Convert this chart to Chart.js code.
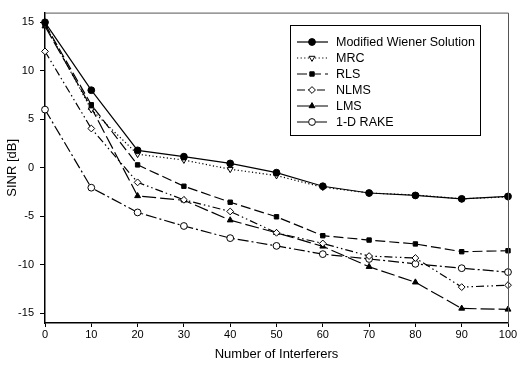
<!DOCTYPE html>
<html>
<head>
<meta charset="utf-8">
<script src="https://cdn.jsdelivr.net/npm/chart.js@4.4.0/dist/chart.umd.min.js"></script>
<style>
html,body{margin:0;padding:0;background:#fff;}
#wrap{width:519px;height:365px;position:relative;}
</style>
</head>
<body>
<div id="wrap"><canvas id="c" width="519" height="365"></canvas></div>
<script>
const interferers = [0, 10, 20, 30, 40, 50, 60, 70, 80, 90, 100];
const wiener  = [15.0, 8.0, 1.8, 1.15, 0.45, -0.5, -1.9, -2.6, -2.85, -3.2, -2.95];
const mrc     = [14.8, 6.0, 1.4, 0.8, -0.15, -0.8, -2.0, -2.6, -2.8, -3.2, -3.0];
const rls     = [14.8, 6.5, 0.3, -1.9, -3.55, -5.05, -7.0, -7.45, -7.85, -8.65, -8.55];
const nlms    = [12.0, 4.05, -1.5, -3.3, -4.5, -6.7, -7.8, -9.1, -9.3, -12.3, -12.1];
const lms     = [14.6, 6.2, -2.9, -3.35, -5.4, -6.7, -8.1, -10.2, -11.8, -14.5, -14.6];
const rake    = [6.0, -2.05, -4.6, -6.0, -7.25, -8.05, -8.9, -9.4, -9.9, -10.35, -10.75];
const seriesNames = ['Modified Wiener Solution', 'MRC', 'RLS', 'NLMS', 'LMS', '1-D RAKE'];
const yTicks = [-15, -10, -5, 0, 5, 10, 15];
const xTicks = [0, 10, 20, 30, 40, 50, 60, 70, 80, 90, 100];

const FONT = '"Liberation Sans", Arial, sans-serif';

function mk(label, data, dash, style, fill, rot) {
  return {
    label: label,
    data: data.map((v, i) => ({x: interferers[i], y: v})),
    borderColor: '#000',
    borderWidth: 1.2,
    borderDash: dash,
    pointStyle: style,
    pointRotation: rot || 0,
    pointRadius: style === 'rect' ? 3.1 : 3.4,
    pointBorderWidth: 1,
    pointBorderColor: '#000',
    pointBackgroundColor: fill ? '#000' : '#fff',
    fill: false,
    tension: 0,
    clip: false
  };
}

const datasets = [
  mk(seriesNames[0], wiener, [], 'circle', true),
  mk(seriesNames[1], mrc, [1.2, 2.4], 'triangle', false, 180),
  mk(seriesNames[2], rls, [10, 4], 'rect', true),
  mk(seriesNames[3], nlms, [8, 3, 1.5, 3, 1.5, 3], 'rectRot', false),
  mk(seriesNames[4], lms, [14, 4], 'triangle', true),
  mk(seriesNames[5], rake, [11, 3, 2, 3], 'circle', false)
];

const framePlugin = {
  id: 'frame',
  afterDatasetsDraw(chart) {
    const {ctx, chartArea: a} = chart;
    ctx.save();
    ctx.strokeStyle = '#555';
    ctx.lineWidth = 1;
    ctx.setLineDash([]);
    ctx.beginPath();
    ctx.moveTo(a.left, a.top + 0.5);
    ctx.lineTo(a.right + 0.5, a.top + 0.5);
    ctx.lineTo(a.right + 0.5, a.bottom);
    ctx.stroke();
    ctx.restore();
  }
};

const legendPlugin = {
  id: 'boxLegend',
  afterDraw(chart) {
    const ctx = chart.ctx;
    const bx = 290, by = 25, bw = 190, bh = 110;
    ctx.save();
    ctx.fillStyle = '#fff';
    ctx.fillRect(bx, by, bw, bh);
    ctx.strokeStyle = '#000';
    ctx.lineWidth = 1;
    ctx.setLineDash([]);
    ctx.strokeRect(bx + 0.5, by + 0.5, bw, bh);
    chart.data.datasets.forEach((ds, i) => {
      const y = 42 + i * 16;
      ctx.save();
      ctx.strokeStyle = '#000';
      ctx.lineWidth = 1.2;
      ctx.setLineDash(ds.borderDash.length ? ds.borderDash : []);
      ctx.beginPath();
      ctx.moveTo(297, y);
      ctx.lineTo(328, y);
      ctx.stroke();
      ctx.setLineDash([]);
      ctx.fillStyle = ds.pointBackgroundColor;
      ctx.strokeStyle = '#000';
      ctx.lineWidth = 1;
      Chart.helpers.drawPoint(ctx, {
        pointStyle: ds.pointStyle,
        rotation: ds.pointRotation,
        radius: ds.pointRadius,
        borderWidth: 1
      }, 312, y);
      ctx.restore();
      ctx.fillStyle = '#000';
      ctx.font = '12.5px ' + FONT;
      ctx.textBaseline = 'middle';
      ctx.textAlign = 'left';
      ctx.fillText(ds.label, 336, y + 0.5);
    });
    ctx.restore();
  }
};

new Chart(document.getElementById('c'), {
  type: 'line',
  data: {datasets: datasets},
  options: {
    responsive: false,
    animation: false,
    devicePixelRatio: 1,
    layout: {padding: {top: 11, right: 11, left: 0, bottom: 0}},
    plugins: {legend: {display: false}, tooltip: {enabled: false}},
    scales: {
      x: {
        type: 'linear',
        min: 0, max: 100,
        afterBuildTicks(s) { s.ticks = xTicks.map(v => ({value: v})); },
        afterFit(s) { s.height = 42; },
        border: {color: '#000', width: 1.5},
        grid: {drawOnChartArea: false, color: '#000', tickLength: 4},
        ticks: {color: '#000', font: {family: FONT, size: 11}, padding: 1, maxRotation: 0},
        title: {display: true, text: 'Number of Interferers', color: '#000',
                font: {family: FONT, size: 13}, padding: {top: 0, bottom: 3}}
      },
      y: {
        type: 'linear',
        min: -16, max: 16,
        afterBuildTicks(s) { s.ticks = yTicks.map(v => ({value: v})); },
        afterFit(s) { s.width = 45; },
        border: {color: '#000', width: 1.5},
        grid: {drawOnChartArea: false, color: '#000', tickLength: 5},
        ticks: {color: '#000', font: {family: FONT, size: 11}, padding: 6},
        title: {display: true, text: 'SINR [dB]', color: '#000',
                font: {family: FONT, size: 13}, padding: {top: 5, bottom: 0}}
      }
    }
  },
  plugins: [framePlugin, legendPlugin]
});
</script>
</body>
</html>
